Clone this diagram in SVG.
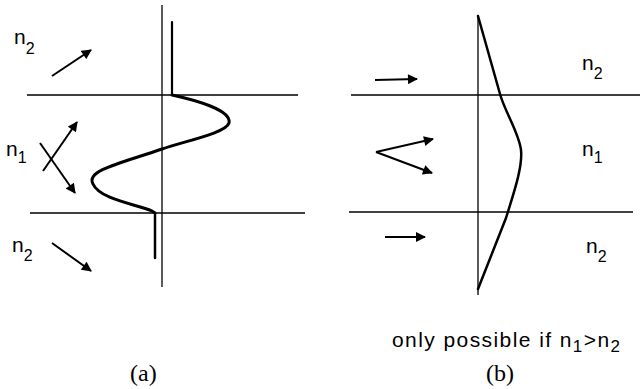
<svg xmlns="http://www.w3.org/2000/svg" width="640" height="389" viewBox="0 0 640 389">
<style>
.thin{stroke:#000;stroke-width:1.3;fill:none}
.wave{stroke:#000;stroke-width:3;fill:none;stroke-linecap:round;stroke-linejoin:round}
.arr{stroke:#000;stroke-width:2;fill:none;marker-end:url(#ah)}
.lbl{font-family:"Liberation Sans",Arial,sans-serif;font-size:21px;fill:#000}
.sub{font-size:16px}
.cap{font-family:"Liberation Serif","Times New Roman",serif;font-size:24px;fill:#000}
</style>
<defs>
<marker id="ah" viewBox="0 0 10 10" refX="9" refY="5" markerWidth="5.5" markerHeight="5" orient="auto" markerUnits="strokeWidth">
<path d="M0,0 L10,5 L0,10 z" fill="#000"/>
</marker>
</defs>
<g id="panel-a">
<line class="thin" x1="162" y1="5" x2="162" y2="287"/>
<line class="thin" x1="27" y1="95" x2="298" y2="95"/>
<line class="thin" x1="30" y1="213" x2="305" y2="213"/>
<line class="wave" x1="172" y1="22" x2="172" y2="94" style="stroke-width:2.2"/>
<line class="wave" x1="155" y1="213" x2="155" y2="258" style="stroke-width:2.5"/>
<path class="wave" d="M172,95 C195,100 232,110 229,123 C226,133 185,141 162,149 C125,162 85,170 93,184 C100,200 140,205 152,211 L155,213"/>
</g>
<g id="panel-b">
<line class="thin" x1="478" y1="15" x2="478" y2="295"/>
<line class="thin" x1="351" y1="95" x2="640" y2="95"/>
<line class="thin" x1="349" y1="212" x2="633" y2="212"/>
<path class="wave" d="M478,16 L500,94 C505,112 519,133 521,150 C523,168 512,198 506,218 L478,289" style="stroke-width:2.5"/>
</g>
<g id="connectors">
<line class="arr" x1="52" y1="76" x2="91" y2="50"/>
<line class="arr" x1="43" y1="171" x2="77" y2="122"/>
<line class="arr" x1="40" y1="143" x2="75" y2="193"/>
<line class="arr" x1="52" y1="243" x2="91" y2="271"/>
<line class="arr" x1="375" y1="80" x2="417" y2="79"/>
<line class="arr" x1="385" y1="237" x2="425" y2="237"/>
<line class="arr" x1="376" y1="152" x2="433" y2="139"/>
<line class="arr" x1="376" y1="152" x2="432" y2="173"/>
</g>
<g id="labels">
<text class="lbl" x="14" y="44">n<tspan class="sub" dy="10">2</tspan></text>
<text class="lbl" x="6" y="156">n<tspan class="sub" dy="7">1</tspan></text>
<text class="lbl" x="12" y="252">n<tspan class="sub" dy="9">2</tspan></text>
<text class="lbl" x="582" y="70">n<tspan class="sub" dy="9">2</tspan></text>
<text class="lbl" x="582" y="156">n<tspan class="sub" dy="7">1</tspan></text>
<text class="lbl" x="586" y="253">n<tspan class="sub" dy="9">2</tspan></text>
<text class="lbl" x="392" y="347" style="font-size:21px" textLength="228" lengthAdjust="spacing">only possible if n<tspan dy="5" style="font-size:17px">1</tspan><tspan dy="-5">&gt;n</tspan><tspan dy="5" style="font-size:17px">2</tspan></text>
<text class="cap" x="130" y="381">(a)</text>
<text class="cap" x="486" y="381">(b)</text>
</g>
</svg>
